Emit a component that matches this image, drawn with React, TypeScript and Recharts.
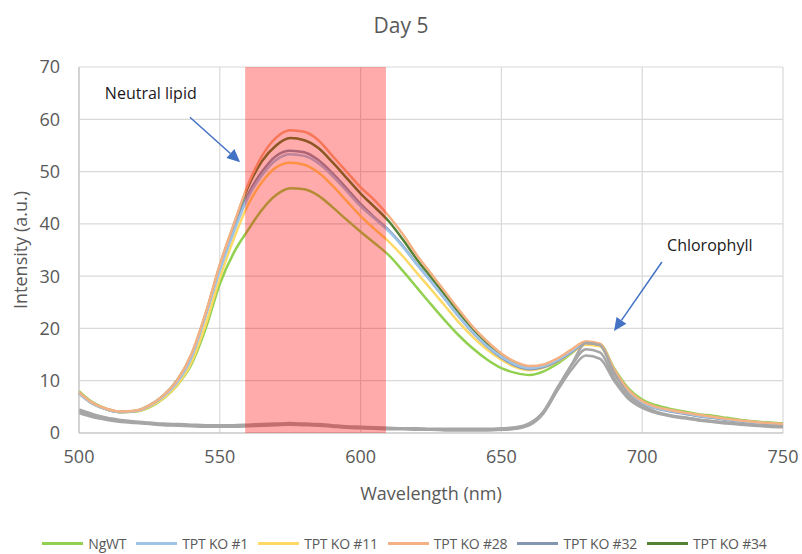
import React from 'react';
import {
    LineChart, Line, XAxis, YAxis, CartesianGrid, Legend, ReferenceArea, ReferenceLine, ReferenceDot
} from 'recharts';

// wavelength (nm), every 5 nm
const wavelengths = [
    500, 505, 510, 515, 520, 525, 530, 535, 540, 545, 550, 555, 560, 565, 570, 575, 580,
    585, 590, 595, 600, 605, 610, 615, 620, 625, 630, 635, 640, 645, 650, 655, 660, 665,
    670, 675, 680, 685, 690, 695, 700, 705, 710, 715, 720, 725, 730, 735, 740, 745, 750,
];

const ngwt = [
    8.0, 5.8, 4.6, 4.0, 4.1, 4.9, 6.6, 9.2, 13.2, 20.0, 28.5, 34.5, 38.8, 42.7, 45.5, 46.8, 46.6,
    45.4, 43.2, 40.8, 38.5, 36.3, 34.0, 31.0, 27.8, 24.6, 21.5, 18.6, 16.1, 14.0, 12.4, 11.5, 11.1, 11.8,
    13.3, 15.3, 17.2, 17.0, 12.4, 8.6, 6.4, 5.3, 4.6, 4.1, 3.6, 3.3, 2.9, 2.5, 2.2, 2.0, 1.8,
];
const ko1 = [
    7.5, 5.5, 4.5, 4.0, 4.2, 5.2, 7.0, 9.8, 14.5, 22.5, 31.0, 38.5, 45.0, 49.3, 52.2, 53.3, 53.0,
    51.6, 49.2, 46.3, 43.4, 41.0, 38.6, 35.6, 32.2, 29.0, 25.6, 22.2, 19.2, 16.6, 14.6, 13.1, 12.4, 12.8,
    14.0, 15.7, 17.4, 17.0, 11.8, 8.0, 5.8, 4.8, 4.2, 3.8, 3.3, 3.0, 2.6, 2.3, 2.0, 1.8, 1.6,
];
const ko11 = [
    7.6, 5.5, 4.5, 4.0, 4.1, 5.0, 6.7, 9.3, 13.6, 20.8, 29.6, 37.2, 43.6, 48.0, 50.8, 51.7, 51.3,
    49.8, 47.3, 44.4, 41.5, 39.0, 36.6, 33.8, 30.6, 27.5, 24.3, 21.1, 18.3, 15.9, 14.0, 12.6, 12.0, 12.5,
    13.7, 15.4, 16.9, 16.6, 11.6, 7.9, 5.8, 4.8, 4.2, 3.8, 3.3, 3.0, 2.6, 2.3, 2.0, 1.8, 1.6,
];
const ko28 = [
    7.8, 5.7, 4.6, 4.1, 4.3, 5.3, 7.2, 10.2, 15.2, 23.0, 32.2, 40.0, 47.5, 53.0, 56.5, 57.9, 57.6,
    56.0, 53.0, 50.0, 47.0, 44.5, 41.5, 38.0, 34.0, 30.5, 27.0, 23.5, 20.2, 17.5, 15.2, 13.6, 12.8, 13.1,
    14.3, 16.0, 17.5, 17.1, 12.2, 8.3, 6.1, 5.0, 4.4, 3.9, 3.5, 3.1, 2.7, 2.4, 2.1, 1.9, 1.7,
];
const ko32 = [
    7.6, 5.6, 4.5, 4.0, 4.2, 5.2, 7.1, 10.0, 14.8, 22.6, 31.6, 39.2, 45.6, 50.0, 53.0, 54.0, 53.7,
    52.2, 49.7, 46.8, 43.8, 41.2, 38.8, 35.8, 32.3, 29.0, 25.6, 22.2, 19.1, 16.5, 14.4, 12.9, 12.2, 12.6,
    13.8, 15.5, 17.2, 16.8, 11.6, 7.8, 5.7, 4.7, 4.1, 3.7, 3.2, 2.9, 2.5, 2.2, 1.9, 1.7, 1.5,
];
const ko34 = [
    7.7, 5.6, 4.5, 4.0, 4.2, 5.3, 7.2, 10.2, 15.0, 22.8, 32.0, 39.8, 47.0, 52.0, 55.0, 56.4, 56.0,
    54.5, 51.8, 48.8, 45.8, 43.2, 40.5, 37.0, 33.2, 29.8, 26.4, 23.0, 19.8, 17.1, 14.9, 13.3, 12.6, 12.9,
    14.1, 15.8, 17.4, 17.0, 12.0, 8.1, 6.0, 4.9, 4.3, 3.9, 3.4, 3.1, 2.7, 2.4, 2.1, 1.9, 1.7,
];

// grey traces (not in legend)
const grey1 = [
    4.2, 3.3, 2.7, 2.3, 2.0, 1.8, 1.6, 1.5, 1.4, 1.3, 1.3, 1.3, 1.4, 1.5, 1.6, 1.7, 1.6,
    1.5, 1.3, 1.1, 1.0, 0.9, 0.8, 0.8, 0.7, 0.7, 0.6, 0.6, 0.6, 0.6, 0.7, 0.9, 1.7, 4.2,
    8.8, 13.0, 16.0, 15.4, 10.6, 6.9, 5.0, 3.9, 3.3, 2.9, 2.5, 2.2, 1.9, 1.7, 1.5, 1.3, 1.2,
];
const grey2 = [
    3.8, 3.0, 2.5, 2.1, 1.9, 1.7, 1.5, 1.4, 1.3, 1.2, 1.2, 1.2, 1.3, 1.4, 1.5, 1.6, 1.5,
    1.4, 1.2, 1.0, 0.9, 0.8, 0.7, 0.7, 0.6, 0.6, 0.5, 0.5, 0.5, 0.5, 0.6, 0.8, 1.5, 3.8,
    8.4, 13.2, 17.2, 16.8, 11.6, 7.5, 5.3, 4.1, 3.4, 3.0, 2.6, 2.3, 2.0, 1.7, 1.5, 1.4, 1.3,
];
const grey3 = [
    4.5, 3.6, 2.9, 2.5, 2.2, 2.0, 1.8, 1.7, 1.6, 1.5, 1.5, 1.5, 1.6, 1.7, 1.8, 1.9, 1.8,
    1.7, 1.5, 1.3, 1.2, 1.1, 1.0, 0.9, 0.9, 0.8, 0.8, 0.8, 0.8, 0.8, 0.9, 1.1, 1.9, 4.0,
    8.2, 12.2, 14.8, 14.2, 10.0, 6.6, 4.8, 3.8, 3.2, 2.8, 2.4, 2.1, 1.8, 1.6, 1.4, 1.2, 1.1,
];

const seriesKeys = ['ngwt', 'ko1', 'ko11', 'ko28', 'ko32', 'ko34'];
const seriesNames = ['NgWT', 'TPT KO #1', 'TPT KO #11', 'TPT KO #28', 'TPT KO #32', 'TPT KO #34'];
const seriesColors = ['#92D050', '#9DC3E6', '#FFD966', '#F4B183', '#8497B0', '#548235'];
// drawing order (bottom to top)
const drawOrder = [5, 0, 2, 4, 1, 3];
const greyKeys = ['grey1', 'grey2', 'grey3'];

const xTicks = [500, 550, 600, 650, 700, 750];
const yTicks = [0, 10, 20, 30, 40, 50, 60, 70];

const data = wavelengths.map((w, i) => ({
    w,
    ngwt: ngwt[i], ko1: ko1[i], ko11: ko11[i], ko28: ko28[i], ko32: ko32[i], ko34: ko34[i],
    grey1: grey1[i], grey2: grey2[i], grey3: grey3[i],
}));

const FONT = '"Open Sans", sans-serif';
const TEXT_GREY = '#595959';

const Arrow = (props: any) => {
    const { x1, y1, x2, y2 } = props;
    const ang = Math.atan2(y2 - y1, x2 - x1);
    const len = 13;
    const half = 6;
    const bx = x2 - len * Math.cos(ang);
    const by = y2 - len * Math.sin(ang);
    const px = -Math.sin(ang) * half;
    const py = Math.cos(ang) * half;
    return (
        <g>
            <line x1={x1} y1={y1} x2={bx} y2={by} stroke="#4472C4" strokeWidth={1.5} />
            <polygon points={`${x2},${y2} ${bx + px},${by + py} ${bx - px},${by - py}`} fill="#4472C4" />
        </g>
    );
};

const noteLabel = (text: string) => (props: any) => {
    const { viewBox } = props;
    const cx = viewBox.x + (viewBox.width || 0) / 2;
    const cy = viewBox.y + (viewBox.height || 0) / 2;
    return (
        <text x={cx} y={cy} textAnchor="middle" dominantBaseline="central"
            fontFamily={FONT} fontSize={16} fill="#1a1a1a">{text}</text>
    );
};

const LegendContent = () => (
    <div style={{
        display: 'flex', justifyContent: 'center', paddingLeft: 36,
        fontFamily: FONT, fontSize: 14, color: TEXT_GREY, letterSpacing: -0.2,
    }}>
        {seriesNames.map((name, i) => (
            <span key={name} style={{ display: 'flex', alignItems: 'center', marginRight: 10 }}>
                <span style={{ display: 'inline-block', width: 41, height: 3, background: seriesColors[i], marginRight: 5 }} />
                {name}
            </span>
        ))}
    </div>
);

const App: React.FC = () => {
    return (
        <div style={{ position: 'absolute', left: 0, top: 0, width: 802, height: 554, background: '#fff' }}>
            <div style={{
                position: 'absolute', top: 11, left: 0, width: 802, textAlign: 'center',
                fontFamily: FONT, fontSize: 21, color: TEXT_GREY,
            }}>Day 5</div>
            <LineChart width={802} height={554} data={data}
                margin={{ top: 67, right: 19, left: 0, bottom: 0 }}>
                <CartesianGrid stroke="#D9D9D9" strokeWidth={1.2} />
                <XAxis
                    dataKey="w"
                    type="number"
                    domain={[500, 750]}
                    ticks={xTicks}
                    height={101}
                    stroke="#BFBFBF"
                    tickLine={false}
                    tickSize={0}
                    tickMargin={17}
                    tick={{ fontSize: 18, fill: TEXT_GREY, fontFamily: FONT }}
                    label={{
                        content: (p: any) => (
                            <text x={p.viewBox.x + p.viewBox.width / 2} y={p.viewBox.y + 60} textAnchor="middle"
                                dominantBaseline="central" fontFamily={FONT} fontSize={18} fill={TEXT_GREY}>Wavelength (nm)</text>
                        ),
                    }}
                />
                <YAxis
                    type="number"
                    domain={[0, 70]}
                    ticks={yTicks}
                    width={79}
                    stroke="#BFBFBF"
                    tickLine={false}
                    tickSize={0}
                    tickMargin={19}
                    tick={{ fontSize: 18, fill: TEXT_GREY, fontFamily: FONT }}
                    label={{
                        content: (p: any) => {
                            const cy = p.viewBox.y + p.viewBox.height / 2;
                            return (
                                <text x={20} y={cy} transform={`rotate(-90 20 ${cy})`} textAnchor="middle"
                                    dominantBaseline="central" fontFamily={FONT} fontSize={18} fill={TEXT_GREY}>Intensity (a.u.)</text>
                            );
                        },
                    }}
                />
                <Legend verticalAlign="bottom" content={LegendContent} wrapperStyle={{ height: 20, bottom: 0 }} />
                {drawOrder.map((i) => (
                    <Line key={seriesKeys[i]} dataKey={seriesKeys[i]} name={seriesNames[i]} type="monotone"
                        stroke={seriesColors[i]} strokeWidth={2.5} dot={false} isAnimationActive={false} />
                ))}
                {greyKeys.map((k) => (
                    <Line key={k} dataKey={k} type="monotone" stroke="#A6A6A6" strokeWidth={2.5}
                        dot={false} isAnimationActive={false} legendType="none" />
                ))}
                <ReferenceArea x1={559} x2={609} y1={0} y2={70} fill="#FF0000" fillOpacity={0.33} stroke="none" zIndex={1500} />
                <ReferenceLine segment={[{ x: 539.4, y: 60.4 }, { x: 557.2, y: 51.8 }]} shape={Arrow} ifOverflow="visible" />
                <ReferenceLine segment={[{ x: 707, y: 32.7 }, { x: 690, y: 19.5 }]} shape={Arrow} ifOverflow="visible" />
                <ReferenceDot x={525.5} y={65} r={0} fill="none" stroke="none" label={{ content: noteLabel('Neutral lipid') }} />
                <ReferenceDot x={724} y={36} r={0} fill="none" stroke="none" label={{ content: noteLabel('Chlorophyll') }} />
            </LineChart>
        </div>
    );
};

export default App;
